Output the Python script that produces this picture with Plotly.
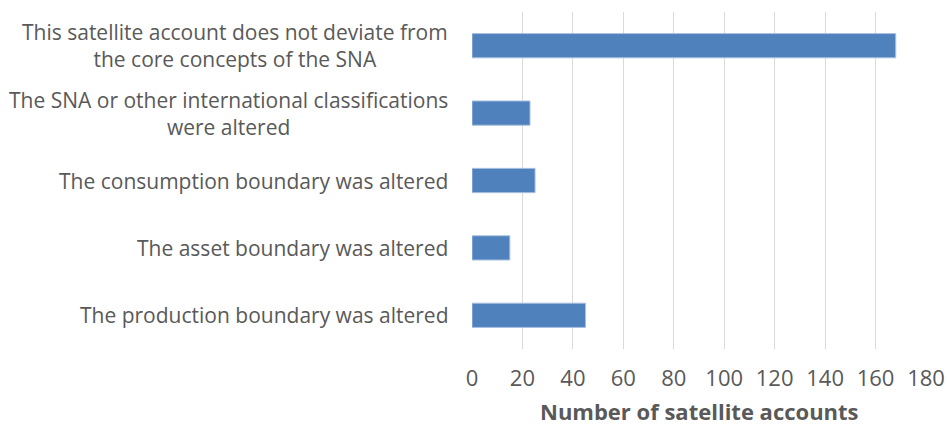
import plotly.graph_objects as go

# Categorías (de abajo hacia arriba) y valores
categorias = [
    "The production boundary was altered",
    "The asset boundary was altered",
    "The consumption boundary was altered",
    "The SNA or other international classifications<br>were altered",
    "This satellite account does not deviate from<br>the core concepts of the SNA",
]
valores = [45, 15, 25, 23, 168]
ticks_x = [0, 20, 40, 60, 80, 100, 120, 140, 160, 180]
titulo_x = "Number of satellite accounts"

FUENTE = "Open Sans"
GRIS = "#595959"

fig = go.Figure()
fig.add_trace(go.Bar(
    x=valores,
    y=list(range(len(categorias))),
    orientation="h",
    width=0.36,
    marker=dict(color="#4F81BD", line=dict(color="#A9C1DF", width=1)),
    showlegend=False,
))

# Etiquetas de categoría como anotaciones para centrar las líneas
for i, cat in enumerate(categorias):
    fig.add_annotation(
        x=0, xref="paper", xshift=-22, xanchor="right",
        y=i, yref="y", yanchor="middle",
        text=cat, showarrow=False, align="center",
        font=dict(family=FUENTE, size=21, color=GRIS),
    )

# Título del eje x como anotación (posición exacta)
fig.add_annotation(
    x=0.5, xref="paper", y=0, yref="paper", yanchor="middle", yshift=-62,
    text=f"<b>{titulo_x}</b>", showarrow=False, borderpad=0,
    font=dict(family=FUENTE, size=22, color=GRIS),
)

fig.update_xaxes(
    range=[0, 180], tickvals=ticks_x, showgrid=True, gridcolor="#D9D9D9", gridwidth=1,
    zeroline=False, showline=False, ticks="outside", ticklen=10, tickcolor="rgba(0,0,0,0)",
    tickfont=dict(family=FUENTE, size=22, color=GRIS), automargin=False,
)
fig.update_yaxes(range=[-0.5, 4.5], showticklabels=False, showgrid=False, zeroline=False,
                 automargin=False)

fig.update_layout(
    width=947, height=428,
    margin=dict(l=472, r=21, t=12, b=79),
    plot_bgcolor="white", paper_bgcolor="white",
)

# sin margen en el body para que la figura ocupe toda la ventana
fig.write_html("out.html", config={"displayModeBar": False},
               post_script="document.body.style.margin='0';")
